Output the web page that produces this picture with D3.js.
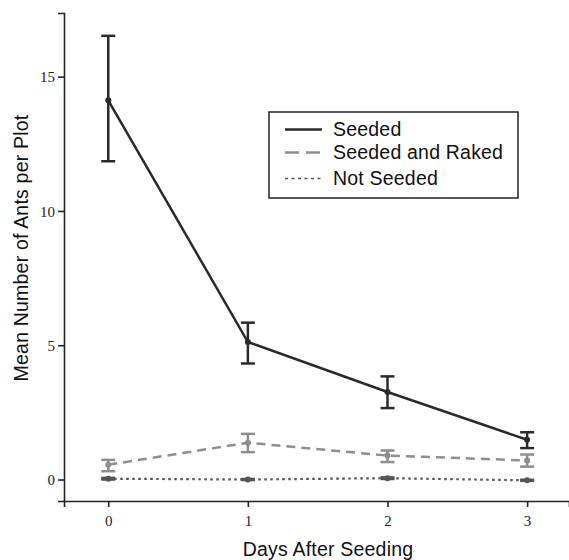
<!DOCTYPE html>
<html lang="en">
<head>
    <meta charset="UTF-8">
    <title>Mean Number of Ants per Plot</title>
    <script src="https://d3js.org/d3.v7.min.js"></script>
    <style>
        body {
            margin: 0;
            background-color: #fff;
        }
        .tick text {
            font-family: "Liberation Serif", "Times New Roman", serif;
            font-size: 15px;
            fill: #222;
        }
        .axis-label {
            font-family: "Liberation Sans", Arial, sans-serif;
            font-size: 19.5px;
            letter-spacing: 0.2px;
            fill: #111;
        }
        .legend text {
            font-family: "Liberation Sans", Arial, sans-serif;
            font-size: 19.5px;
            letter-spacing: 0.2px;
            fill: #111;
        }
    </style>
</head>
<body>
    <svg id="chart" width="569" height="560"></svg>

    <script>
        const days = [0, 1, 2, 3];
        const seriesNames = ["Seeded", "Seeded and Raked", "Not Seeded"];
        const seededMean = [14.12, 5.12, 3.26, 1.48];
        const seededLow = [11.85, 4.32, 2.66, 1.17];
        const seededHigh = [16.52, 5.84, 3.84, 1.76];
        const rakedMean = [0.55, 1.37, 0.89, 0.71];
        const rakedLow = [0.31, 1.02, 0.65, 0.48];
        const rakedHigh = [0.73, 1.70, 1.08, 0.93];
        const notMean = [0.03, 0.0, 0.05, -0.03];
        const notLow = [0.0, -0.02, 0.02, -0.05];
        const notHigh = [0.06, 0.02, 0.08, -0.01];
        const yTicks = [0, 5, 10, 15];

        const series = [
            { name: seriesNames[0], mean: seededMean, low: seededLow, high: seededHigh,
              color: "#2a2a2a", dash: null, width: 2.5 },
            { name: seriesNames[1], mean: rakedMean, low: rakedLow, high: rakedHigh,
              color: "#8e8e8e", dash: "9,6", width: 2.5 },
            { name: seriesNames[2], mean: notMean, low: notLow, high: notHigh,
              color: "#555", dash: "2.5,3.5", width: 2.2 }
        ];

        const margin = { top: 13, right: 0, bottom: 59, left: 64 };
        const width = 569 - margin.left - margin.right;
        const height = 560 - margin.top - margin.bottom;

        const svg = d3.select("#chart")
          .append("g")
            .attr("transform", `translate(${margin.left}, ${margin.top})`);

        const x = d3.scaleLinear()
            .domain([-0.317, 3.3])
            .range([0, width]);

        const y = d3.scaleLinear()
            .domain([-0.8, 17.37])
            .range([height, 0]);

        // axes
        const yAxis = svg.append("g")
            .call(d3.axisLeft(y).tickValues(yTicks).tickFormat(d3.format("d"))
                .tickSize(6).tickPadding(3));
        const xAxis = svg.append("g")
            .attr("transform", `translate(0, ${height})`)
            .call(d3.axisBottom(x).tickValues(days).tickFormat(d3.format("d"))
                .tickSize(6).tickPadding(8));
        [xAxis, yAxis].forEach(a => {
            a.select(".domain").attr("stroke", "#222").attr("stroke-width", 1.6);
            a.selectAll(".tick line").attr("stroke", "#222").attr("stroke-width", 1.6);
        });
        yAxis.selectAll(".tick text").attr("dy", "0.35em");

        const line = d3.line()
            .x((d, i) => x(days[i]))
            .y(d => y(d));

        // draw back to front so Seeded is on top
        series.slice().reverse().forEach(s => {
            const g = svg.append("g");
            g.append("path")
                .datum(s.mean)
                .attr("fill", "none")
                .attr("stroke", s.color)
                .attr("stroke-width", s.width)
                .attr("stroke-dasharray", s.dash)
                .attr("d", line);

            const bars = g.selectAll(".err")
                .data(days)
                .enter().append("g");
            bars.append("line")
                .attr("x1", d => x(d)).attr("x2", d => x(d))
                .attr("y1", (d, i) => y(s.low[i]))
                .attr("y2", (d, i) => y(s.high[i]))
                .attr("stroke", s.color).attr("stroke-width", 2.5);
            ["low", "high"].forEach(k => {
                bars.append("line")
                    .attr("x1", d => x(d) - 7).attr("x2", d => x(d) + 7)
                    .attr("y1", (d, i) => y(s[k][i]))
                    .attr("y2", (d, i) => y(s[k][i]))
                    .attr("stroke", s.color).attr("stroke-width", 2.5);
            });
            bars.append("circle")
                .attr("cx", d => x(d))
                .attr("cy", (d, i) => y(s.mean[i]))
                .attr("r", 3)
                .attr("fill", s.color);
        });

        // legend
        const legend = d3.select("#chart").append("g")
            .attr("class", "legend")
            .attr("transform", "translate(269, 112)");
        legend.append("rect")
            .attr("width", 249)
            .attr("height", 86)
            .attr("fill", "#fff")
            .attr("stroke", "#222")
            .attr("stroke-width", 1.5);
        const rowY = [17.5, 40.5, 66.5];
        const legendDash = [null, "14,7", "3,3.5"];
        series.forEach((s, i) => {
            legend.append("line")
                .attr("x1", 16).attr("x2", 53)
                .attr("y1", rowY[i]).attr("y2", rowY[i])
                .attr("stroke", s.color)
                .attr("stroke-width", i === 2 ? 1.6 : 2.5)
                .attr("stroke-dasharray", legendDash[i]);
            legend.append("text")
                .attr("x", 64)
                .attr("y", rowY[i])
                .attr("dy", "0.35em")
                .text(s.name);
        });

        // axis titles
        svg.append("text")
            .attr("class", "axis-label")
            .attr("x", 328 - margin.left)
            .attr("y", 556 - margin.top)
            .attr("text-anchor", "middle")
            .text("Days After Seeding");

        svg.append("text")
            .attr("class", "axis-label")
            .attr("transform", `translate(${28 - margin.left}, ${248 - margin.top}) rotate(-90)`)
            .attr("text-anchor", "middle")
            .text("Mean Number of Ants per Plot");
    </script>
</body>
</html>
